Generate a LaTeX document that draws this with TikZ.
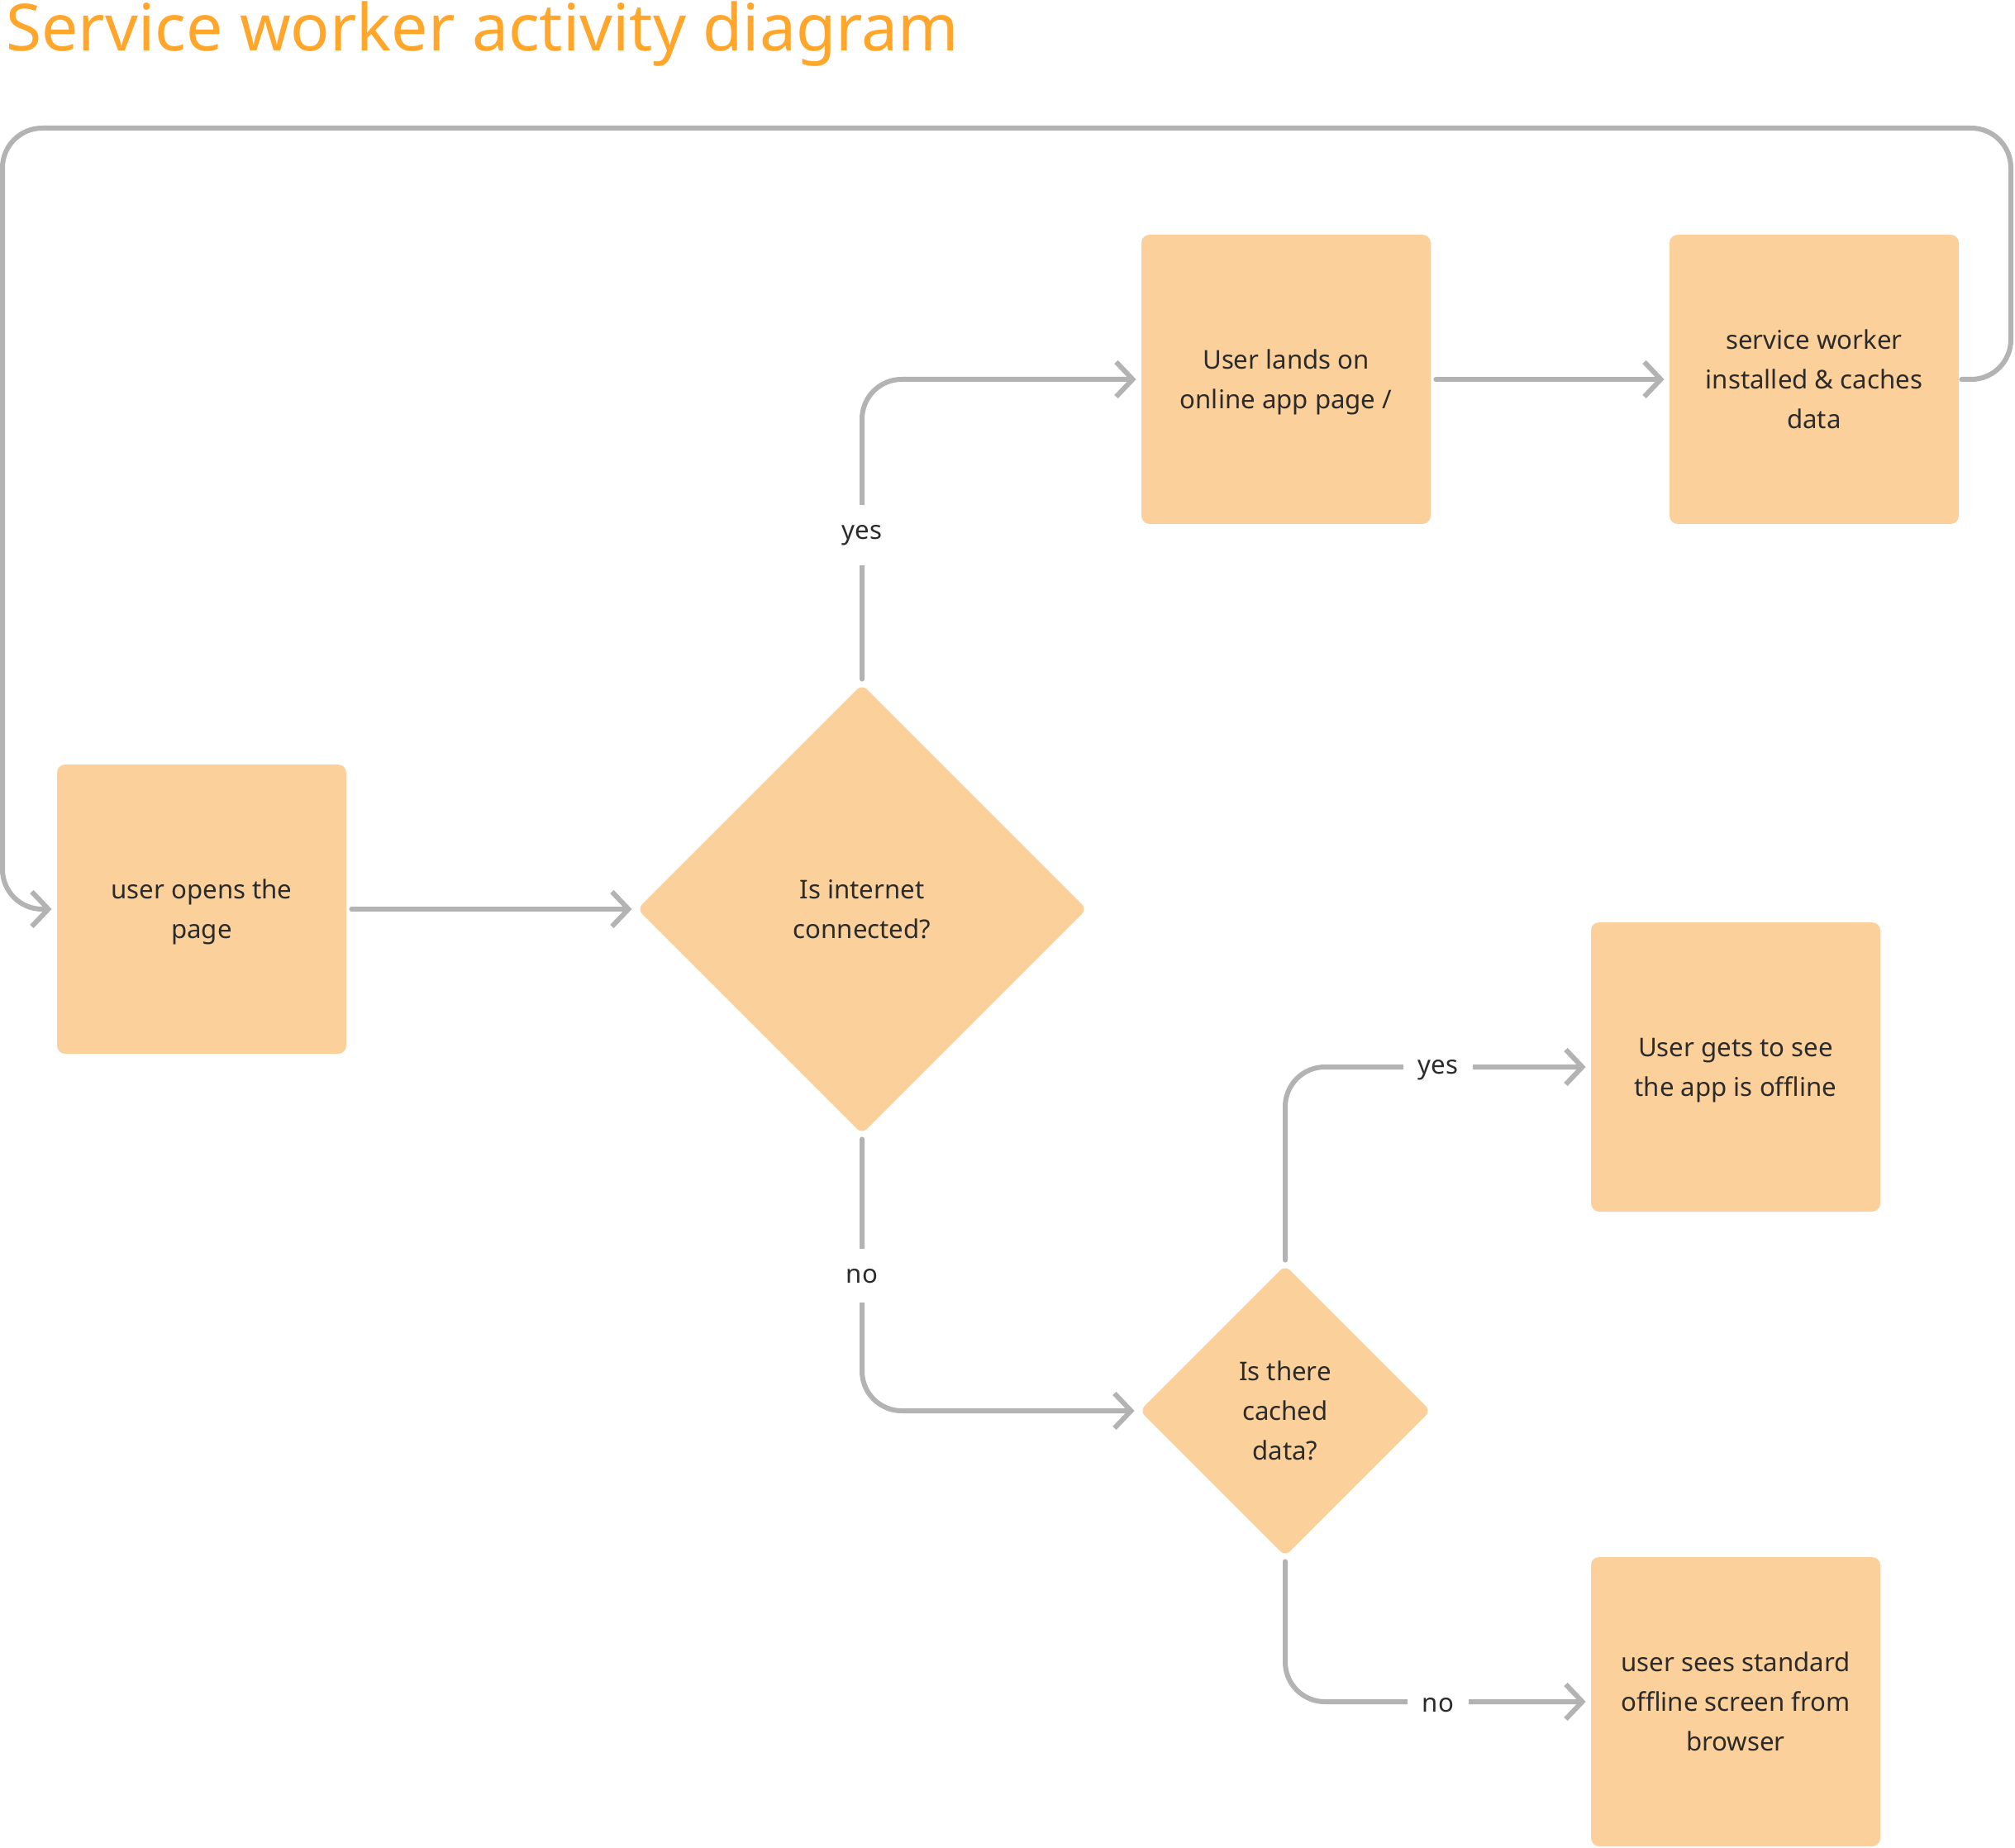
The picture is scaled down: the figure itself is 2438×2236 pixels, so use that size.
\documentclass[tikz,border=0pt]{standalone}
\usepackage{fontspec}
\setmainfont{Noto Sans}
\usetikzlibrary{shapes.geometric,arrows.meta}

\definecolor{boxfill}{HTML}{FBD09B}
\definecolor{linegray}{HTML}{B3B3B3}
\definecolor{titleorange}{HTML}{FFA62B}
\definecolor{textdark}{HTML}{2B2B2B}

\tikzset{
    stepbox/.style={fill=boxfill,rounded corners=5pt,minimum width=175pt,minimum height=175pt,align=center,text=textdark,font=\steptext,text depth=0pt},
    decision/.style={diamond,fill=boxfill,rounded corners=4pt,align=center,text=textdark,font=\steptext,inner sep=0pt,text depth=0pt},
    flow/.style={draw=linegray,line width=3pt,line cap=round,line join=round,rounded corners=24pt,-{Straight Barb[length=10pt,width=21pt]},shorten >=3pt,shorten <=3pt},
    answer/.style={fill=white,text=textdark,font=\steptext,inner xsep=9pt,inner ysep=12pt,yshift=-2pt},
}

\begin{document}
\begin{tikzpicture}[x=0.5pt,y=-0.5pt]
    \providecommand{\steptext}{\fontsize{15.6pt}{24pt}\selectfont}
    \providecommand{\titletext}{\fontsize{39.3pt}{48pt}\selectfont}
    \useasboundingbox (0,0) rectangle (2438,2236);
    \node[anchor=base west,inner sep=0pt,text=titleorange,font=\titletext] (title) at (7,62) {Service worker activity diagram};
    % steps and decisions
    \node[stepbox] (opens) at (244,1100) {user opens the\\page};
    \node[decision,minimum width=272pt,minimum height=272pt] (online) at (1043,1100) {Is internet\\connected?};
    \node[stepbox] (lands) at (1556,459) {User lands on\\online app page /};
    \node[stepbox] (worker) at (2195,459) {service worker\\installed \& caches\\data};
    \node[decision,minimum width=176pt,minimum height=176pt] (cached) at (1555,1707) {Is there\\cached\\data?};
    \node[stepbox] (offline) at (2100,1291) {User gets to see\\the app is offline};
    \node[stepbox] (fallback) at (2100,2059) {user sees standard\\offline screen from\\browser};
    \coordinate (loopright) at (2433,155);
    \coordinate (loopleft) at (3,155);
    % connectors
    \draw[flow] (opens) -- (online);
    \draw[flow] (online.north) -- (online.north |- lands) -- (lands);
    \draw[flow] (lands) -- (worker);
    \draw[flow,shorten <=0pt] (worker.east) ++(3,0) -- (worker -| loopright) -- (loopright) -- (loopleft) -- (loopleft |- opens) -- (opens);
    \draw[flow] (online.south) -- (online.south |- cached) -- (cached);
    \draw[flow] (cached.north) -- (cached.north |- offline) -- (offline);
    \draw[flow] (cached.south) -- (cached.south |- fallback) -- (fallback);
    % answers on the branches
    \path (online.north) -- (online.north |- lands) node[answer,midway] (yesonline) {yes};
    \path (online.south) -- (online.south |- cached) node[answer,midway] (noonline) {no};
    \path (cached.north |- offline) -- (offline.west) node[answer,midway] (yescached) {yes};
    \path (cached.south |- fallback) -- (fallback.west) node[answer,midway] (nocached) {no};
\end{tikzpicture}
\end{document}
